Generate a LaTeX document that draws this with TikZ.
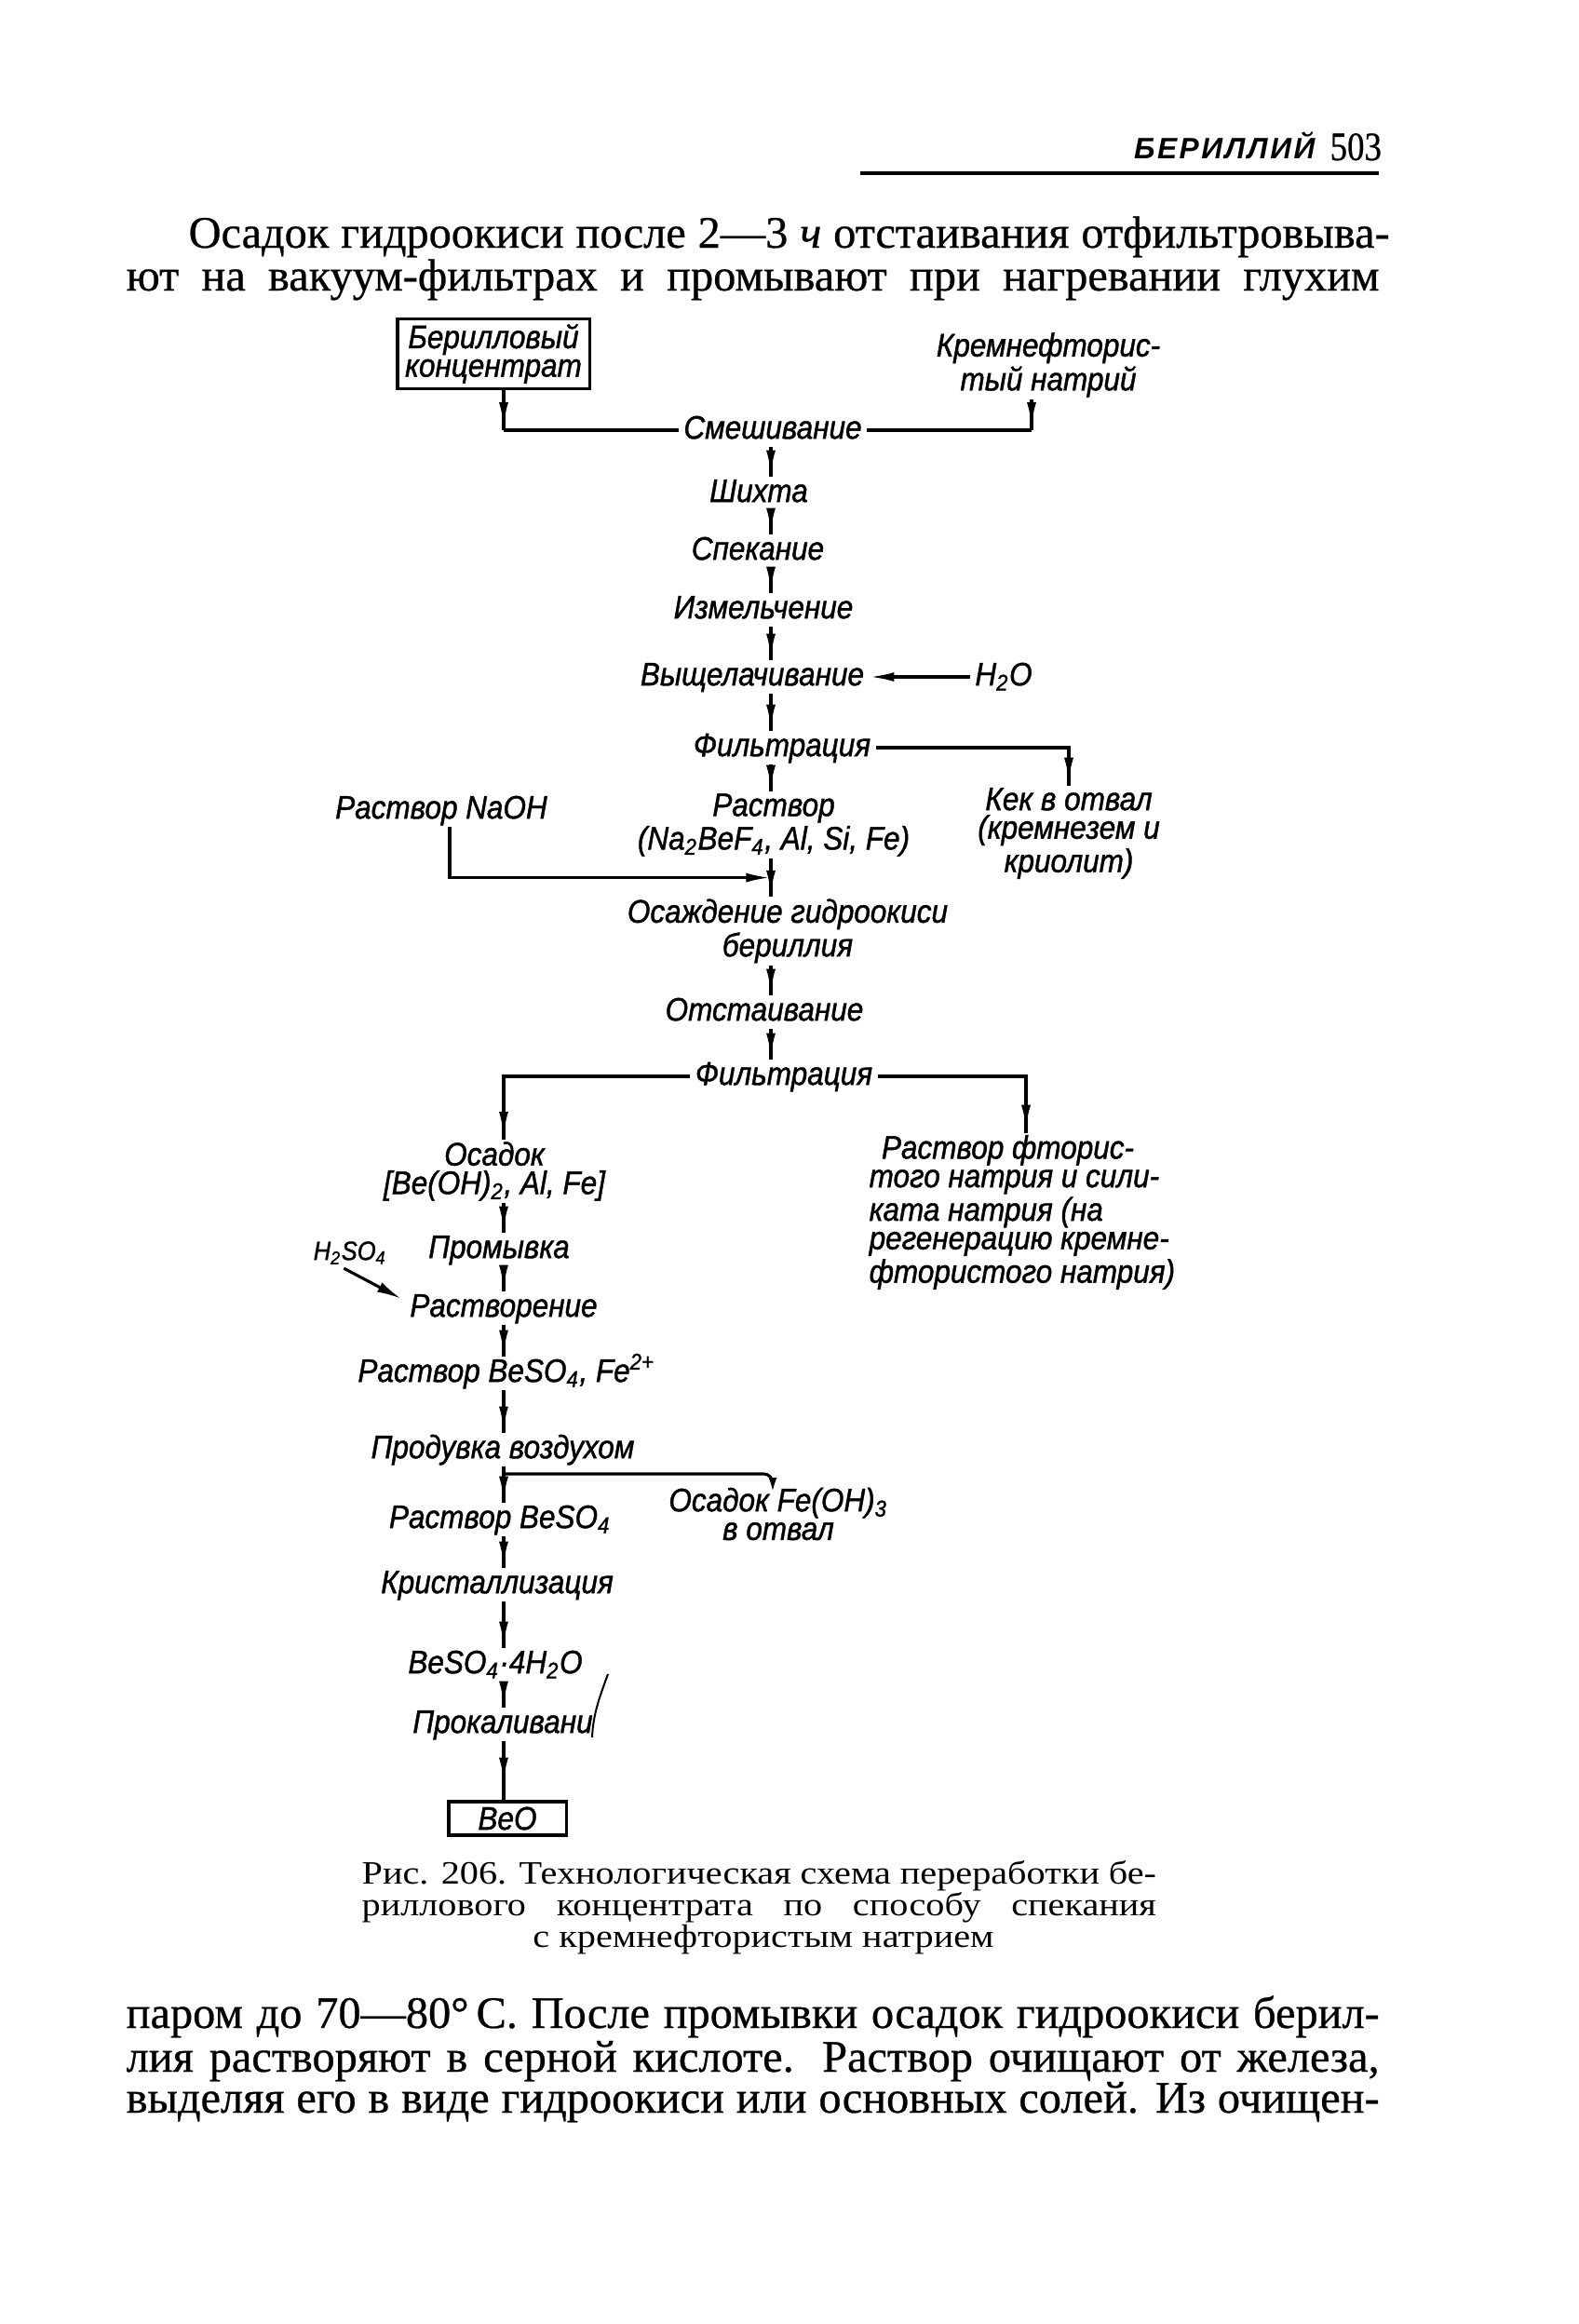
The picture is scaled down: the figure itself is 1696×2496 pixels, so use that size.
\documentclass[tikz,border=0pt]{standalone}
\usepackage{fontspec}
\setmainfont[FakeBold=0.6]{Liberation Serif}
\newfontfamily\dfont[FakeStretch=0.9,FakeBold=1.2]{Liberation Sans}
\newfontfamily\hfont[LetterSpace=8]{Liberation Sans}
\newfontfamily\nfont[FakeStretch=0.85,FakeBold=0.6]{Liberation Serif}
\newfontfamily\cfont[FakeStretch=1.15]{Liberation Serif}
\usetikzlibrary{arrows.meta,decorations.markings,calc}

\tikzset{
  lbl/.style={font=\dfont\itshape\fontsize{10.5}{9.2}\selectfont, inner xsep=1.5pt, inner ysep=0.5pt, align=center},
  one/.style={lbl, text height=7.5pt, text depth=2pt},
  ln/.style={line width=0.95pt},
  arr/.style={ln, postaction={decorate,decoration={markings,mark=at position #1 with {\arrow{Latex[length=8pt,width=3pt]}}}}},
  endarr/.style={ln, -{Latex[length=8pt,width=3pt]}},
  smallend/.style={ln, rounded corners=3pt, -{Latex[length=5pt,width=2.6pt]}},
  bodyl/.style={font=\fontsize{14.5}{14.5}\selectfont, inner sep=0pt, anchor=base west},
  capl/.style={font=\cfont\fontsize{10.5}{10.5}\selectfont, inner sep=0pt, anchor=base west},
  framed/.style={lbl, draw, line width=1.1pt},
}

\begin{document}
\begin{tikzpicture}[x=0.3pt,y=-0.3pt]
\fill[white] (0,0) rectangle (1696,2496);
\useasboundingbox (0,0) rectangle (1696,2496);

% ---------- page header ----------
\node[anchor=base east, inner sep=0pt, font=\hfont\bfseries\itshape\fontsize{9.5}{9.5}\selectfont] (hdr) at (1413,170) {БЕРИЛЛИЙ};
\node[anchor=base west, inner sep=0pt, font=\nfont\fontsize{13}{13}\selectfont] (pg) at (1428,172) {503};
\draw[line width=1pt] (924,186) -- (1481,186);

% ---------- body text above ----------
\node[bodyl] (t1) at (202,266) {\makebox[387pt][s]{Осадок гидроокиси после 2—3 \textit{ч} отстаивания отфильтровыва-}};
\node[bodyl] (t2) at (135,312) {\makebox[403.8pt][s]{ют на вакуум-фильтрах и промывают при нагревании глухим}};

% ---------- diagram ----------
\coordinate (cA) at (828,0);
\coordinate (cB) at (541,0);
\coordinate (rcx) at (1108,0);
\coordinate (nx) at (483,0);
\coordinate (rx) at (1102,0);
\coordinate (ox) at (830,0);

\node[framed, minimum width=62pt, minimum height=22.5pt] (conc) at (530,380) {Берилловый\\концентрат};
\node[lbl] (ksf) at (1126,392) {Кремнефторис-\\тый натрий};
\node[one] (smesh) at (830,462) {Смешивание};
\node[one] (shihta) at (815,530) {Шихта};
\node[one] (spek) at (814,592) {Спекание};
\node[one] (izmel) at (820,655) {Измельчение};
\node[one] (vysh) at (808,727) {Выщелачивание};
\node[one] (h2o) at (1078,727) {H\textsubscript{2}O};
\node[one] (filt1) at (840,803) {Фильтрация};
\node[one] (naoh) at (474,870) {Раствор NaOH};
\node[lbl] (rast1) at (831,886) {Раствор\\(Na\textsubscript{2}BeF\textsubscript{4}, Al, Si, Fe)};
\node[lbl] (kek) at (1148,895) {Кек в отвал\\(кремнезем и\\криолит)};
\node[lbl] (osazh) at (846,1000) {Осаждение гидроокиси\\бериллия};
\node[one] (otst) at (821,1087) {Отстаивание};
\node[one] (filt2) at (842,1156) {Фильтрация};
\node[lbl] (osadok) at (531,1258) {Осадок\\{}[Be(OH)\textsubscript{2}, Al, Fe]};
\node[lbl, align=left, anchor=west] (rfl) at (928,1302) {\hspace{4pt}Раствор фторис-\\того натрия и сили-\\ката натрия (на\\регенерацию кремне-\\фтористого натрия)};
\node[one] (prom) at (536,1342) {Промывка};
\node[one, font=\dfont\itshape\fontsize{8.5}{8.5}\selectfont] (h2so4) at (376,1344) {H\textsubscript{2}SO\textsubscript{4}};
\node[one] (rastv) at (541,1405) {Растворение};
\node[one] (rbf) at (544,1475) {Раствор BeSO\textsubscript{4}, Fe\textsuperscript{2+}};
\node[one] (produv) at (540,1557) {Продувка воздухом};
\node[lbl] (ofe) at (836,1626) {Осадок Fe(OH)\textsubscript{3}\\в отвал};
\node[one] (rbs) at (537,1632) {Раствор BeSO\textsubscript{4}};
\node[one] (krist) at (534,1702) {Кристаллизация};
\node[one] (bsh) at (532,1788) {BeSO\textsubscript{4}·4H\textsubscript{2}O};
\node[one] (prok) at (540,1852) {Прокаливани};
\node[framed, minimum width=38pt, minimum height=10.8pt] (beo) at (545,1953) {BeO};

% connectors: the two feeds into mixing
\draw[arr=-1pt] (conc.south -| cB) -- (smesh.west -| cB);
\draw[ln] (smesh.west -| cB) -- (smesh.west);
\draw[arr=-1pt] (ksf.south -| rcx) -- (smesh.east -| rcx);
\draw[ln] (smesh.east -| rcx) -- (smesh.east);

\foreach \a/\b in {smesh/shihta, shihta/spek, spek/izmel, izmel/vysh, vysh/filt1, filt1/rast1, osazh/otst, otst/filt2}
  \draw[arr=-0.5pt] (\a.south -| cA) -- (\b.north -| cA);
\draw[arr=-0.5pt] (rast1.south -| cA) -- (osazh.north -| cA);

\draw[endarr] (h2o.west) -- (vysh.east);
\draw[arr=-1pt] (filt1.east) -| (kek.north);

\coordinate (join) at ($(rast1.south -| cA)!0.5!(osazh.north -| cA)$);
\draw[endarr] (naoh.south -| nx) |- (join);

\draw[arr=-1pt] (filt2.west) -| (osadok.north -| cB);
\draw[arr=-1pt] (filt2.east) -| (rfl.north -| rx);

\foreach \a/\b in {osadok/prom, prom/rastv, rastv/rbf, rbf/produv, produv/rbs, rbs/krist, krist/bsh, bsh/prok}
  \draw[arr=-0.5pt] (\a.south -| cB) -- (\b.north -| cB);
\draw[arr=0.7] (prok.south -| cB) -- (beo.north -| cB);

\coordinate (brk) at ($(produv.south -| cB)!0.2!(rbs.north -| cB)$);
\coordinate (ofetop) at ($(ofe.north -| ox)+(0,-2.5pt)$);
\draw[smallend] (brk) -| (ofetop);

\draw[ln, -{Latex[length=8pt,width=3.4pt]}] ([xshift=-2pt]h2so4.south) -- ([xshift=-1pt,yshift=3pt]rastv.west);

% stray stroke after "Прокаливани"
\draw[line width=0.6pt] (636,1866) .. controls (637,1840) and (645,1820) .. (653,1798);

% ---------- caption ----------
\node[capl] (c1) at (388,2023) {\makebox[256pt][s]{Рис. 206. Технологическая схема переработки бе-}};
\node[capl] (c2) at (388,2057) {\makebox[256pt][s]{риллового концентрата по способу спекания}};
\node[capl, anchor=base] (c3) at (820,2091) {с кремнефтористым натрием};

% ---------- body text below ----------
\node[bodyl] (b1) at (135,2178) {\makebox[403.8pt][s]{паром до 70—80°\,С. После промывки осадок гидроокиси берил-}};
\node[bodyl] (b2) at (135,2225) {\makebox[403.8pt][s]{лия растворяют в серной кислоте. Раствор очищают от железа,}};
\node[bodyl] (b3) at (135,2269) {\makebox[403.8pt][s]{выделяя его в виде гидроокиси или основных солей. Из очищен-}};
\end{tikzpicture}
\end{document}
